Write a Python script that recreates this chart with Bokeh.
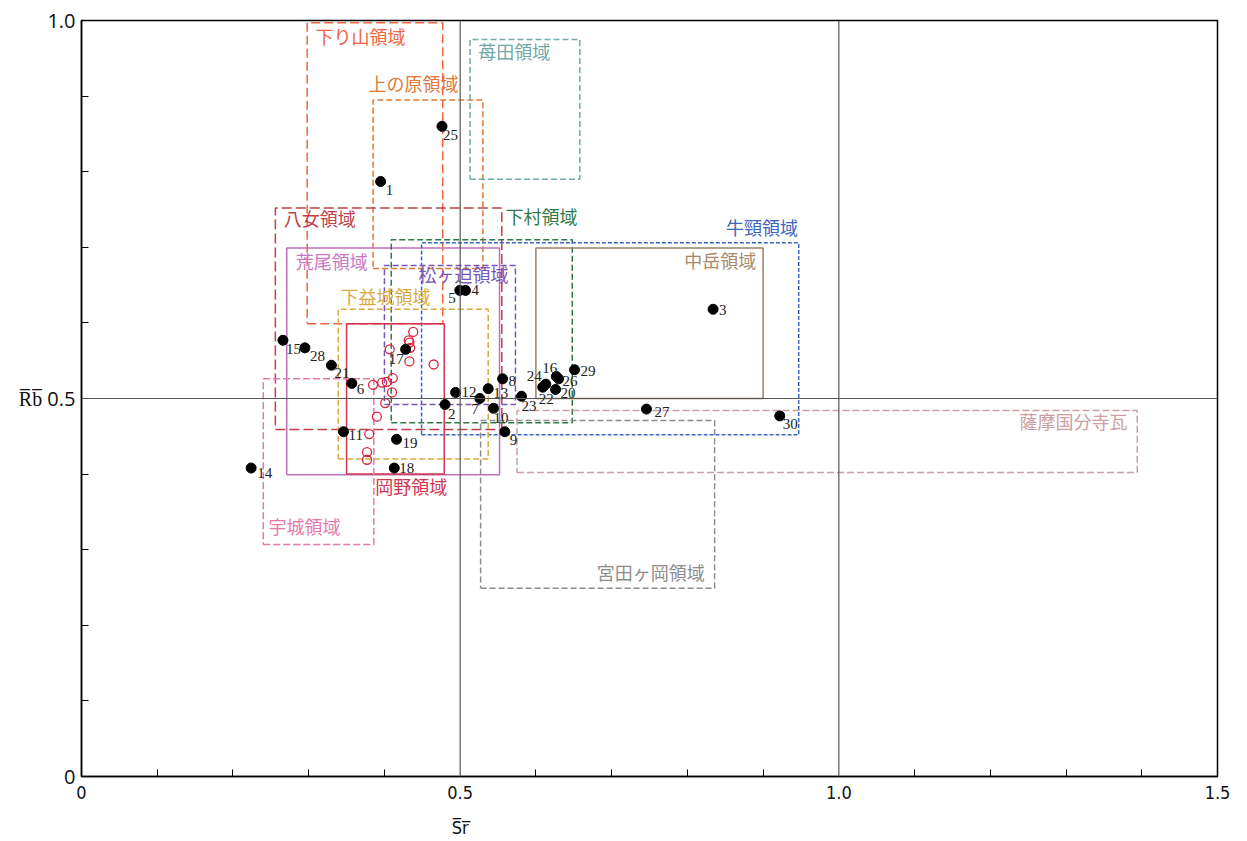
from bokeh.plotting import figure
from bokeh.models import ColumnDataSource, FixedTicker, Span
from bokeh.core.properties import value
from bokeh.embed import file_html
from bokeh.resources import INLINE

# ---- data: analysed samples (Sr, Rb normalised) ----
pt_id = ["1", "2", "3", "4", "5", "6", "7", "8", "9", "10", "11", "12", "13", "14", "15",
         "16", "17", "18", "19", "20", "21", "22", "23", "24", "25", "26", "27", "28", "29", "30"]
pt_sr = [0.395, 0.480, 0.834, 0.507, 0.4995, 0.357, 0.526, 0.556, 0.559, 0.544, 0.346, 0.494, 0.537, 0.224, 0.266,
         0.627, 0.428, 0.413, 0.416, 0.626, 0.330, 0.609, 0.581, 0.613, 0.476, 0.630, 0.746, 0.295, 0.651, 0.922]
pt_rb = [0.787, 0.492, 0.618, 0.643, 0.643, 0.520, 0.500, 0.526, 0.456, 0.487, 0.456, 0.508, 0.513, 0.408, 0.577,
         0.529, 0.565, 0.408, 0.446, 0.512, 0.544, 0.515, 0.503, 0.519, 0.860, 0.526, 0.486, 0.567, 0.538, 0.477]

# reference samples (open circles)
ref_sr = [0.438, 0.432, 0.433, 0.434, 0.407, 0.433, 0.465, 0.411, 0.403, 0.397, 0.385, 0.410, 0.401, 0.390,
          0.380, 0.377, 0.377]
ref_rb = [0.588, 0.577, 0.574, 0.567, 0.565, 0.549, 0.545, 0.527, 0.522, 0.521, 0.518, 0.508, 0.494, 0.476,
          0.453, 0.429, 0.419]

# ---- regions (Sr min, Sr max, Rb min, Rb max) ----
reg_name = ["下り山領域", "上の原領域", "苺田領域", "八女領域", "荒尾領域", "下村領域", "牛頸領域",
            "中岳領域", "松ヶ迫領域", "下益城領域", "岡野領域", "宇城領域", "宮田ヶ岡領域", "薩摩国分寺瓦"]
reg_x0 = [0.298, 0.385, 0.513, 0.256, 0.271, 0.409, 0.449, 0.600, 0.400, 0.339, 0.350, 0.240, 0.527, 0.575]
reg_x1 = [0.477, 0.530, 0.658, 0.555, 0.552, 0.648, 0.947, 0.900, 0.573, 0.537, 0.479, 0.386, 0.836, 1.394]
reg_y0 = [0.599, 0.672, 0.790, 0.459, 0.399, 0.468, 0.452, 0.500, 0.492, 0.420, 0.400, 0.307, 0.249, 0.402]
reg_y1 = [0.997, 0.895, 0.975, 0.752, 0.699, 0.710, 0.706, 0.699, 0.676, 0.618, 0.599, 0.526, 0.471, 0.484]

# styles
reg_color = ["#F06440", "#E07A35", "#6FA9A8", "#C0404A", "#C070B8", "#2E7A4B", "#3A66C0",
             "#9C8064", "#7856B8", "#D8AA40", "#D4344F", "#E878AC", "#8C8C8C", "#C9A0A4"]
reg_text_color = ["#F06440", "#E07A35", "#6FA9A8", "#C0404A", "#C878C0", "#2E7A4B", "#3A66C0",
                  "#A88A6C", "#7856B8", "#D8AA40", "#D4344F", "#E878AC", "#8C8C8C", "#C9A0A4"]
reg_dash = ["9 4", "6 3", "6 3", "10 4", "solid", "6 3", "4 2",
            "solid", "6 3", "6 3", "solid", "7 3", "6 3", "7 3"]
# label anchor (data coords) and alignment
reg_lx = [0.309, 0.379, 0.524, 0.267, 0.283, 0.560, 0.946, 0.891, 0.445, 0.342, 0.388, 0.247, 0.823, 1.381]
reg_ly = [0.997, 0.935, 0.977, 0.756, 0.699, 0.759, 0.744, 0.700, 0.682, 0.653, 0.401, 0.349, 0.288, 0.487]
reg_align = ["left", "left", "left", "left", "left", "left", "right",
             "right", "left", "left", "left", "left", "right", "right"]

# point label offsets (screen px) and alignment
lab_dx = [5, 3, 6, 6, -4, 5, -1, 6, 5, 0, 5, 6, 5, 6, 3,
          1, -2, 5, 6, 5, 3, -4, 0, -4, 1, 4, 8, 5, 6, 3]
lab_dy = [8, 9, 1, 0, 8, 6, 10, 2, 8, 10, 3, 0, 4, 5, 9,
          -9, 10, 0, 4, 4, 8, 12, 10, -8, 9, 2, 3, 8, 1, 8]
lab_align = ["left", "left", "left", "left", "right", "left", "right", "left", "left", "left", "left", "left",
             "left", "left", "left", "right", "right", "left", "left", "left", "left", "left", "left", "right",
             "left", "left", "left", "left", "left", "left"]

p = figure(frame_width=1136, frame_height=756, x_range=(0, 1.5), y_range=(0, 1.0),
           output_backend="svg", toolbar_location=None,
           min_border_left=81, min_border_top=20, min_border_right=14, min_border_bottom=60)
p.background_fill_color = "white"
p.outline_line_color = "black"
p.outline_line_width = 1.5
p.xgrid.visible = False
p.ygrid.visible = False

for xv in (0.5, 1.0):
    p.add_layout(Span(location=xv, dimension="height", line_color="#555555", line_width=1.2))
p.add_layout(Span(location=0.5, dimension="width", line_color="#555555", line_width=1.2))

# axes (axis titles are attached to the 0.5 ticks, as in the original)
p.xaxis.ticker = FixedTicker(ticks=[0, 0.5, 1.0, 1.5],
                             minor_ticks=[0.1, 0.2, 0.3, 0.4, 0.6, 0.7, 0.8, 0.9, 1.1, 1.2, 1.3, 1.4])
p.xaxis.major_label_overrides = {0: "0", 0.5: "0.5\n\u2009\nS\u0305r\u0305", 1: "1.0", 1.5: "1.5"}
p.yaxis.ticker = FixedTicker(ticks=[0, 0.5, 1.0],
                             minor_ticks=[0.1, 0.2, 0.3, 0.4, 0.6, 0.7, 0.8, 0.9])
p.yaxis.major_label_overrides = {0: "0", 0.5: "R\u0305b\u0305 0.5", 1: "1.0"}
for ax in (p.xaxis[0], p.yaxis[0]):
    ax.major_tick_in = 0
    ax.major_tick_out = 0
    ax.minor_tick_in = 7
    ax.minor_tick_out = 0
    ax.minor_tick_line_color = "black"
    ax.axis_line_color = "black"
    ax.axis_line_width = 1.5
    ax.major_label_text_color = "#111111"
p.xaxis.major_label_text_font = "DejaVu Sans Condensed"
p.xaxis.major_label_text_font_size = "18px"
p.xaxis.major_label_text_line_height = 0.85
p.yaxis.major_label_text_font = "Open Sans"
p.yaxis.major_label_text_font_size = "20px"
p.xaxis.major_label_standoff = 5
p.yaxis.major_label_standoff = 6

# regions
for i in range(len(reg_name)):
    xs = [reg_x0[i], reg_x1[i], reg_x1[i], reg_x0[i], reg_x0[i]]
    ys = [reg_y0[i], reg_y0[i], reg_y1[i], reg_y1[i], reg_y0[i]]
    p.line(xs, ys, line_color=reg_color[i], line_width=1.5, line_dash=reg_dash[i])

lab_src = ColumnDataSource(dict(x=reg_lx, y=reg_ly, text=reg_name, color=reg_text_color, align=reg_align))
p.text(x="x", y="y", text="text", source=lab_src, text_color="color", text_align="align",
       text_baseline="top", text_font=value("Noto Sans CJK JP"), text_font_size="18px")

# reference samples
p.scatter(ref_sr, ref_rb, marker="circle", size=9, fill_color="white", fill_alpha=0.0,
          line_color="#D8263F", line_width=1.3)

# samples
pt_src = ColumnDataSource(dict(x=pt_sr, y=pt_rb, text=pt_id, dx=lab_dx, dy=lab_dy, align=lab_align))
p.scatter("x", "y", source=pt_src, marker="circle", size=10, fill_color="black", line_color="black")
p.text(x="x", y="y", text="text", source=pt_src, x_offset="dx", y_offset="dy", text_align="align",
       text_baseline="middle", text_font=value("Liberation Serif"), text_font_size="15px", text_color="#222222")

open("out.html", "w").write(file_html(p, INLINE))
